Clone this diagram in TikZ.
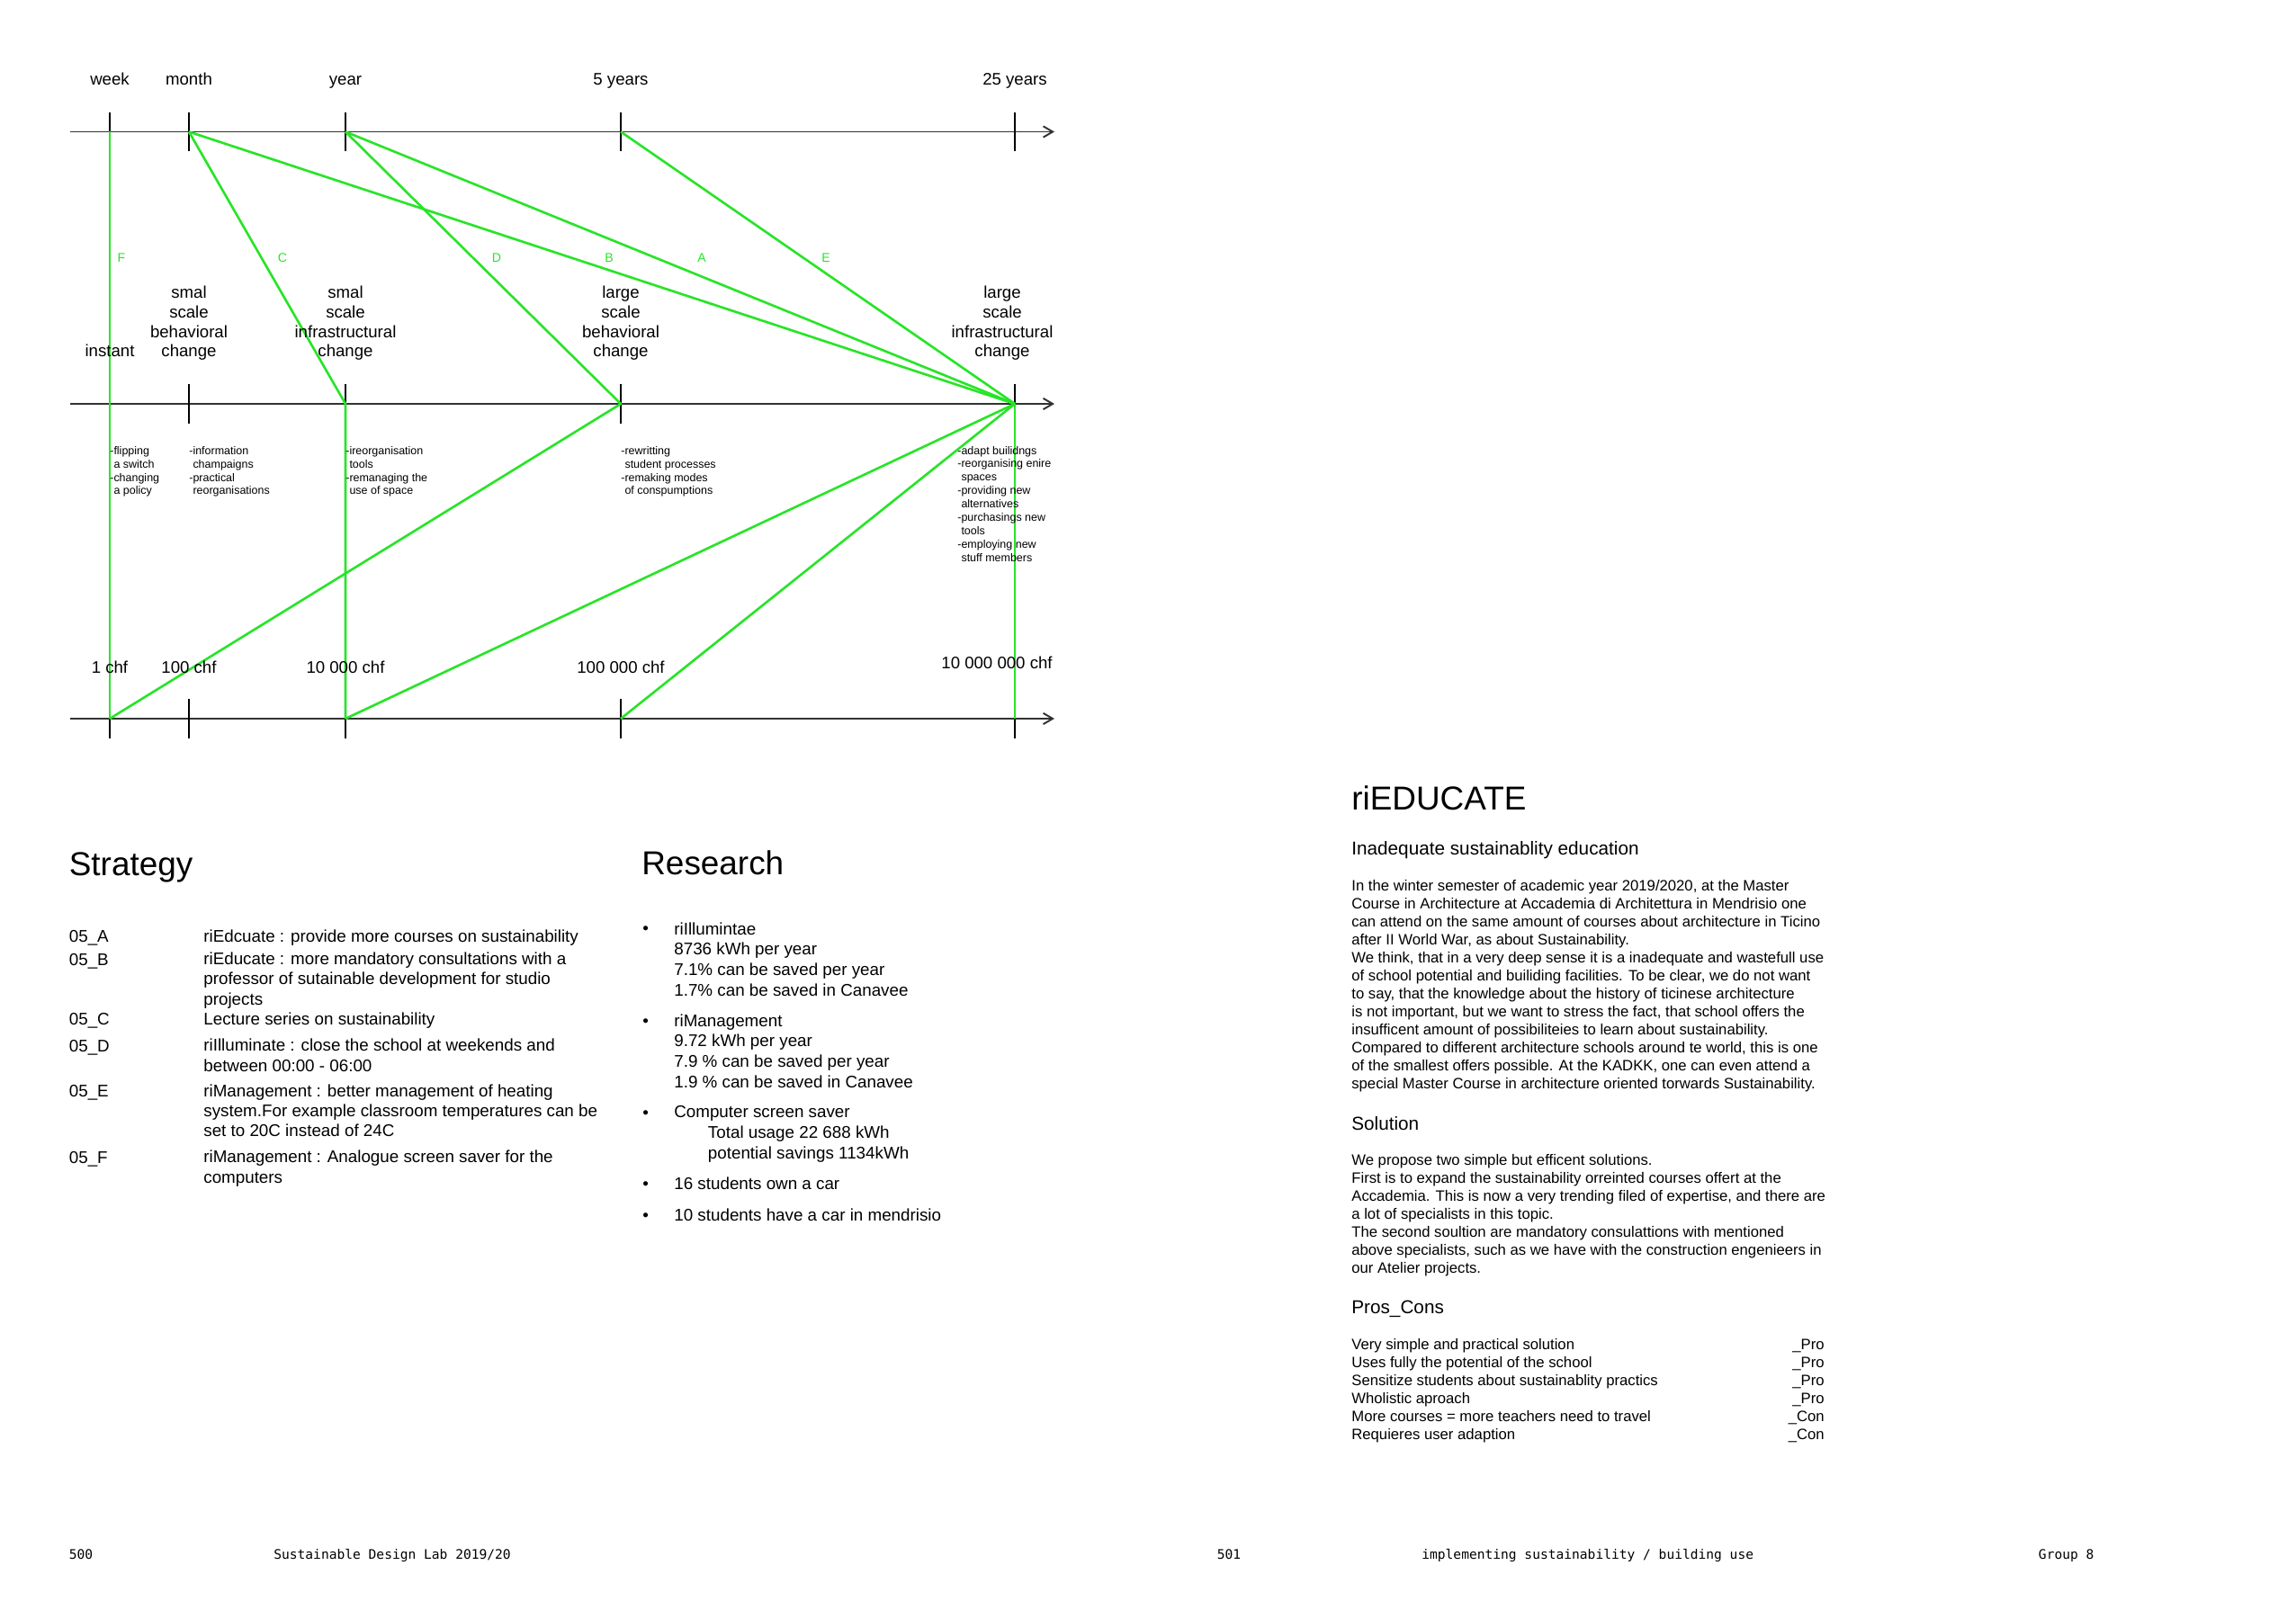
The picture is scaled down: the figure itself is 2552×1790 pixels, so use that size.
\documentclass[tikz,border=0pt]{standalone}
\usepackage{fontspec}
\setmainfont{Liberation Sans}
\setmonofont{DejaVu Sans Mono}
\usetikzlibrary{positioning,arrows.meta,calc}
\definecolor{stratgreen}{RGB}{40,228,40}
\definecolor{axisgray}{RGB}{50,50,50}

\tikzset{
  axisline/.style={draw=axisgray,line width=1.1pt,-{Straight Barb[length=6pt,width=7pt]}},
  tickline/.style={draw=black,line width=0.8pt},
  stratline/.style={draw=stratgreen,line width=1.5pt,line join=round},
  scalelbl/.style={font=\fontsize{10.6}{12.4}\selectfont,align=center,inner sep=0pt,anchor=base},
  letterlbl/.style={text=stratgreen,font=\fontsize{8}{9}\selectfont,inner sep=0pt,anchor=base},
  notelbl/.style={font=\fontsize{7.1}{8.5}\selectfont,align=left,inner sep=0pt,anchor=base west},
  headlbl/.style={font=\fontsize{21}{25}\selectfont,inner sep=0pt,anchor=base west},
  subheadlbl/.style={font=\fontsize{11.8}{14}\selectfont,inner sep=0pt,anchor=base west},
  bodylbl/.style={font=\fontsize{10.7}{12.6}\selectfont,align=left,inner sep=0pt,anchor=base west},
  reslbl/.style={bodylbl,font=\fontsize{10.7}{12.9}\selectfont},
  pagelbl/.style={font=\fontsize{9.5}{11.4}\selectfont,align=left,inner sep=0pt,anchor=base west},
  footlbl/.style={font=\ttfamily\fontsize{8.3}{10}\selectfont,inner sep=0pt,anchor=base west}
}

\begin{document}
\begin{tikzpicture}[x=0.02cm,y=-0.02cm]
\useasboundingbox (0,0) rectangle (2552,1790);

% three axes: time, scale, cost
\foreach \ax/\y in {time/146.5,scale/449,cost/799}{
  \coordinate (\ax-start) at (78,\y);
  \coordinate (\ax-end) at (1172,\y);
  \draw[axisline] (\ax-start) -- (\ax-end);
  \foreach \tk/\x in {week/122,month/210,year/384,fivey/690,quarter/1128}{
    \coordinate (\ax-\tk) at (\x,\y);
    \draw[tickline] ($(\ax-\tk)+(0,-21.7)$) -- ($(\ax-\tk)+(0,21.7)$);
  }
}

% strategies
\draw[stratline] (time-week) -- (scale-week) -- (cost-week);    % F
\draw[stratline] (time-month) -- (scale-year) -- (cost-year);   % C
\draw[stratline] (time-year) -- (scale-fivey) -- (cost-week);   % D
\draw[stratline] (time-month) -- (scale-quarter);               % B
\draw[stratline] (time-year) -- (scale-quarter);                % A
\draw[stratline] (time-fivey) -- (scale-quarter);               % E
\draw[stratline] (scale-quarter) -- (cost-year);
\draw[stratline] (scale-quarter) -- (cost-fivey);
\draw[stratline] (scale-quarter) -- (cost-quarter);

\node[letterlbl] (let-f) at (135,292) {F};
\node[letterlbl] (let-c) at (314,292) {C};
\node[letterlbl] (let-d) at (552,292) {D};
\node[letterlbl] (let-b) at (677,292) {B};
\node[letterlbl] (let-a) at (780,292) {A};
\node[letterlbl] (let-e) at (918,292) {E};

% time labels
\foreach \tk/\txt in {week/week,month/month,year/year,fivey/5 years,quarter/25 years}
  \node[scalelbl] (time-lbl-\tk) at ($(time-\tk)+(0,-51.5)$) {\txt};

% scale labels (multi-line nodes sit on their last line)
\node[scalelbl] (sc-instant) at (122,397) {instant};
\node[scalelbl] (sc-smallbeh) at (210,397) {smal\\scale\\behavioral\\change};
\node[scalelbl] (sc-smallinf) at (384,397) {smal\\scale\\infrastructural\\change};
\node[scalelbl] (sc-largebeh) at (690,397) {large\\scale\\behavioral\\change};
\node[scalelbl] (sc-largeinf) at (1114,397) {large\\scale\\infrastructural\\change};

% examples
\node[notelbl] (ex-week) at (122,550) {-flipping\\\phantom{-}a switch\\-changing\\\phantom{-}a policy};
\node[notelbl] (ex-month) at (210,550) {-information\\\phantom{-}champaigns\\-practical\\\phantom{-}reorganisations};
\node[notelbl] (ex-year) at (384,550) {-ireorganisation\\\phantom{-}tools\\-remanaging the\\\phantom{-}use of space};
\node[notelbl] (ex-fivey) at (690,550) {-rewritting\\\phantom{-}student processes\\-remaking modes\\\phantom{-}of conspumptions};
\node[notelbl] (ex-quarter) at (1064,624.5) {-adapt builidngs\\-reorganising enire\\\phantom{-}spaces\\-providing new\\\phantom{-}alternatives\\-purchasings new\\\phantom{-}tools\\-employing new\\\phantom{-}stuff members};

% cost labels
\node[scalelbl] (cost-lbl-week) at (122,748) {1 chf};
\node[scalelbl] (cost-lbl-month) at (210,748) {100 chf};
\node[scalelbl] (cost-lbl-year) at (384,748) {10 000 chf};
\node[scalelbl] (cost-lbl-fivey) at (690,748) {100 000 chf};
\node[scalelbl] (cost-lbl-quarter) at (1108,743) {10 000 000 chf};

% strategy
\node[headlbl] (strategy) at (76.5,973) {Strategy};
\node[bodylbl] (st-a) at (76.5,1047) {05\_A};
\node[bodylbl] (st-a-t) at (226,1047) {riEdcuate : provide more courses on sustainability};
\node[bodylbl] (st-b) at (76.5,1073) {05\_B};
\node[bodylbl] (st-b-t) at (226,1117) {riEducate : more mandatory consultations with a\\professor of sutainable development for studio\\projects};
\node[bodylbl] (st-c) at (76.5,1139) {05\_C};
\node[bodylbl] (st-c-t) at (226,1139) {Lecture series on sustainability};
\node[bodylbl] (st-d) at (76.5,1169) {05\_D};
\node[bodylbl] (st-d-t) at (226,1191) {riIlluminate : close the school at weekends and\\between 00:00 - 06:00};
\node[bodylbl] (st-e) at (76.5,1219) {05\_E};
\node[bodylbl] (st-e-t) at (226,1263.5) {riManagement : better management of heating\\system.For example classroom temperatures can be\\set to 20C instead of 24C};
\node[bodylbl] (st-f) at (76.5,1293) {05\_F};
\node[bodylbl] (st-f-t) at (226,1315) {riManagement : Analogue screen saver for the\\computers};

% research
\node[headlbl] (research) at (713,972) {Research};
\foreach \i/\y in {1/1038,2/1141,3/1243,4/1322,5/1357}
  \node[bodylbl] (bul-\i) at (714,\y) {\textbullet};
\node[reslbl] (re-1) at (749,1107) {riIllumintae\\8736 kWh per year\\7.1\% can be saved per year\\1.7\% can be saved in Canavee};
\node[reslbl] (re-2) at (749,1209) {riManagement\\9.72 kWh per year\\7.9 \% can be saved per year\\1.9 \% can be saved in Canavee};
\node[reslbl] (re-3) at (749,1288) {Computer screen saver\\\hspace{2em}Total usage 22 688 kWh\\\hspace{2em}potential savings 1134kWh};
\node[reslbl] (re-4) at (749,1322) {16 students own a car};
\node[reslbl] (re-5) at (749,1357) {10 students have a car in mendrisio};

% right page
\node[headlbl] (rieducate) at (1502,900) {riEDUCATE};
\node[subheadlbl] (problem) at (1502,950) {Inadequate sustainablity education};
\node[pagelbl] (problem-t) at (1502,1210.4) {In the winter semester of academic year 2019/2020, at the Master\\
Course in Architecture at Accademia di Architettura in Mendrisio one\\
can attend on the same amount of courses about architecture in Ticino\\
after II World War, as about Sustainability.\\
We think, that in a very deep sense it is a inadequate and wastefull use\\
of school potential and builiding facilities. To be clear, we do not want\\
to say, that the knowledge about the history of ticinese architecture\\
is not important, but we want to stress the fact, that school offers the\\
insufficent amount of possibiliteies to learn about sustainability.\\
Compared to different architecture schools around te world, this is one\\
of the smallest offers possible. At the KADKK, one can even attend a\\
special Master Course in architecture oriented torwards Sustainability.};
\node[subheadlbl] (solution) at (1502,1256) {Solution};
\node[pagelbl] (solution-t) at (1502,1415.2) {We propose two simple but efficent solutions.\\
First is to expand the sustainability orreinted courses offert at the\\
Accademia. This is now a very trending filed of expertise, and there are\\
a lot of specialists in this topic.\\
The second soultion are mandatory consulattions with mentioned\\
above specialists, such as we have with the construction engenieers in\\
our Atelier projects.};
\node[subheadlbl] (proscons) at (1502,1460) {Pros\_Cons};
\node[pagelbl] (pc-left) at (1502,1600.2) {Very simple and practical solution\\
Uses fully the potential of the school\\
Sensitize students about sustainablity practics\\
Wholistic aproach\\
More courses = more teachers need to travel\\
Requieres user adaption};
\node[pagelbl,align=right,anchor=base east] (pc-right) at (2028,1600.2) {\_Pro\\\_Pro\\\_Pro\\\_Pro\\\_Con\\\_Con};

% footer
\node[footlbl] (pg-left) at (76.5,1733) {500};
\node[footlbl] (ft-left) at (304,1733) {Sustainable Design Lab 2019/20};
\node[footlbl] (pg-right) at (1352.5,1733) {501};
\node[footlbl] (ft-right) at (1580,1733) {implementing sustainability / building use};
\node[footlbl] (ft-group) at (2265.6,1733) {Group 8};
\end{tikzpicture}
\end{document}
